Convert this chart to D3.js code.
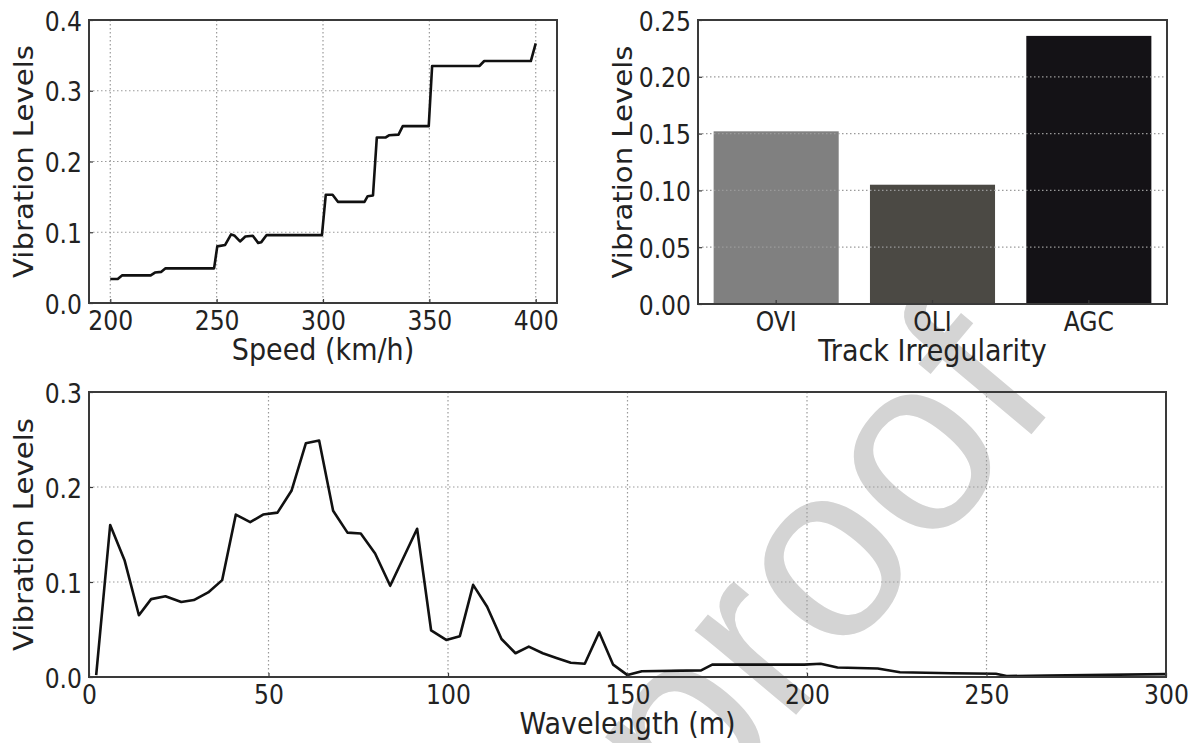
<!DOCTYPE html>
<html>
<head>
<meta charset="utf-8">
<script src="https://cdn.jsdelivr.net/npm/d3@7/dist/d3.min.js"></script>
<style>
  html, body { margin: 0; padding: 0; background: #fff; }
  svg { display: block; font-family: 'DejaVu Sans', sans-serif; }
</style>
</head>
<body>
<div id="chart"></div>
<script>
// speed sweep (top left)
const speedKmh = [200, 203.5, 205.5, 219, 221, 224, 226, 248.8, 250.3, 254, 256.8, 258.5, 261, 263.5,
  267, 269.5, 271, 273.5, 299.5, 301.3, 304.5, 307, 319.5, 321, 323.5, 325.3, 329.5, 331,
  335.5, 337.5, 349.7, 351.3, 373.5, 375.8, 397.7, 400];
const speedVib = [0.034, 0.034, 0.039, 0.039, 0.043, 0.044, 0.049, 0.049, 0.080, 0.082, 0.097, 0.095,
  0.087, 0.094, 0.095, 0.085, 0.086, 0.096, 0.096, 0.153, 0.153, 0.143, 0.143, 0.151, 0.152,
  0.234, 0.234, 0.237, 0.238, 0.250, 0.250, 0.335, 0.335, 0.342, 0.342, 0.367];
const speedTicks = [200, 250, 300, 350, 400];
const speedVibTicks = [0, 0.1, 0.2, 0.3, 0.4];

// track irregularity types (top right)
const irregularities = ['OVI', 'OLI', 'AGC'];
const irregularityVib = [0.152, 0.105, 0.236];
const barColors = ['#808080', '#4b4944', '#141216'];
const barVibTicks = [0, 0.05, 0.10, 0.15, 0.20, 0.25];

// wavelength sweep (bottom)
const wavelength = [2, 5.9, 9.9, 13.9, 17.3, 21.3, 25.7, 29.2, 33.2, 37.1, 40.9, 44.9, 48.5, 52.5,
  56.4, 60.4, 64.1, 68, 72, 75.7, 79.7, 83.9, 91.4, 95.3, 99.5, 103.3, 107, 110.9, 114.9,
  118.8, 122.5, 126.4, 130.2, 134.2, 138.1, 142.1, 146, 150, 154, 170.5, 173.6, 199.2,
  203.8, 208.5, 219.7, 225.9, 240.3, 252.6, 255.6, 266.9, 300];
const wavelengthVib = [0.002, 0.160, 0.123, 0.065, 0.082, 0.085, 0.079, 0.081, 0.089, 0.102, 0.171,
  0.163, 0.171, 0.173, 0.196, 0.246, 0.249, 0.175, 0.152, 0.151, 0.130, 0.096, 0.156, 0.049,
  0.039, 0.043, 0.097, 0.074, 0.040, 0.025, 0.032, 0.025, 0.020, 0.015, 0.014, 0.047, 0.013,
  0.002, 0.006, 0.007, 0.013, 0.013, 0.014, 0.010, 0.009, 0.005, 0.004, 0.0035, 0.001, 0.0015, 0.003];
const wavelengthTicks = [0, 50, 100, 150, 200, 250, 300];
const wavelengthVibTicks = [0, 0.1, 0.2, 0.3];

const W = 1198, H = 743;
const TICK_FONT = 23.5;
const LABEL_FONT = 27;
const STRETCH = 1.1; // source picture is a bit taller than wide
const TEXT = '#222';
const FRAME = '#3a3a3a';
const GRID = '#9a9a9a';

const svg = d3.select('#chart').append('svg')
  .attr('width', W)
  .attr('height', H);

// watermark sits behind everything
svg.append('text')
  .attr('transform', 'translate(1062, 398) rotate(-50)')
  .attr('text-anchor', 'end')
  .attr('font-family', 'Liberation Sans, Arial, sans-serif')
  .attr('font-size', 250)
  .attr('fill', '#d4d4d4')
  .text('Journal Pre-proof');

function panel(box) {
  const g = svg.append('g');
  g.box = box;
  return g;
}

function drawGrid(g, x, y, xTicks, yTicks) {
  const b = g.box;
  const grid = g.append('g')
    .attr('stroke', GRID)
    .attr('stroke-width', 1.2)
    .attr('stroke-dasharray', '1.5,2.5');
  grid.selectAll('.gx')
    .data(xTicks)
    .join('line')
    .attr('class', 'gx')
    .attr('x1', (d) => x(d)).attr('x2', (d) => x(d))
    .attr('y1', b.top).attr('y2', b.bottom);
  grid.selectAll('.gy')
    .data(yTicks)
    .join('line')
    .attr('class', 'gy')
    .attr('x1', b.left).attr('x2', b.right)
    .attr('y1', (d) => y(d)).attr('y2', (d) => y(d));
}

function drawAxes(g, xAxis, yAxis, xLabel, yLabelX) {
  const b = g.box;
  const ax = g.append('g')
    .attr('transform', `translate(0, ${b.bottom})`)
    .call(xAxis);
  const ay = g.append('g')
    .attr('transform', `translate(${b.left}, 0)`)
    .call(yAxis);
  [ax, ay].forEach((a) => {
    a.select('.domain').remove();
    a.selectAll('.tick line').attr('stroke', FRAME).attr('stroke-width', 1.2);
    a.selectAll('.tick text')
      .attr('fill', TEXT)
      .attr('font-size', TICK_FONT)
      .attr('font-family', 'DejaVu Sans, sans-serif');
  });
  ax.selectAll('.tick text')
    .attr('y', null).attr('dy', null)
    .attr('transform', `translate(0, 27) scale(1, ${STRETCH})`);
  ay.selectAll('.tick text')
    .attr('x', null).attr('dy', null)
    .attr('transform', `translate(-7, 10) scale(1, ${STRETCH})`);

  g.append('rect')
    .attr('x', b.left).attr('y', b.top)
    .attr('width', b.right - b.left).attr('height', b.bottom - b.top)
    .attr('fill', 'none')
    .attr('stroke', FRAME)
    .attr('stroke-width', 2);

  g.append('text')
    .attr('transform', `translate(${(b.left + b.right) / 2}, ${b.bottom + 57}) scale(1, ${STRETCH})`)
    .attr('text-anchor', 'middle')
    .attr('font-size', LABEL_FONT)
    .attr('fill', TEXT)
    .text(xLabel);
  g.append('text')
    .attr('transform', `translate(${yLabelX}, ${(b.top + b.bottom) / 2}) scale(1, ${STRETCH}) rotate(-90)`)
    .attr('text-anchor', 'middle')
    .attr('font-size', LABEL_FONT - 0.5)
    .attr('fill', TEXT)
    .text('Vibration Levels');
}

// ---- top left: speed ----
const p1 = panel({left: 89, right: 557, top: 20, bottom: 303});
const x1 = d3.scaleLinear().domain([190, 410]).range([p1.box.left, p1.box.right]);
const y1 = d3.scaleLinear().domain([0, 0.4]).range([p1.box.bottom, p1.box.top]);
drawGrid(p1, x1, y1, speedTicks, speedVibTicks.slice(1, -1));
p1.append('path')
  .datum(speedKmh.map((s, i) => [s, speedVib[i]]))
  .attr('fill', 'none')
  .attr('stroke', '#111')
  .attr('stroke-width', 2.6)
  .attr('stroke-linejoin', 'round')
  .attr('d', d3.line().x((d) => x1(d[0])).y((d) => y1(d[1])));
drawAxes(p1,
  d3.axisBottom(x1).tickValues(speedTicks).tickSize(-4).tickFormat(d3.format('d')),
  d3.axisLeft(y1).tickValues(speedVibTicks).tickSize(-4).tickFormat(d3.format('.1f')),
  'Speed (km/h)', 33);

// ---- top right: irregularity bars ----
const p2 = panel({left: 698, right: 1167, top: 20, bottom: 304});
const x2 = d3.scaleBand().domain(irregularities)
  .range([p2.box.left, p2.box.right])
  .paddingInner(0.2).paddingOuter(0.1);
const y2 = d3.scaleLinear().domain([0, 0.25]).range([p2.box.bottom, p2.box.top]);
p2.selectAll('.bar')
  .data(irregularities)
  .join('rect')
  .attr('class', 'bar')
  .attr('x', (d) => x2(d))
  .attr('width', x2.bandwidth())
  .attr('y', (d, i) => y2(irregularityVib[i]))
  .attr('height', (d, i) => y2(0) - y2(irregularityVib[i]))
  .attr('fill', (d, i) => barColors[i]);
// grid on top of the bars, horizontal only
drawGrid(p2, x2, y2, [], barVibTicks.slice(1, -1));
drawAxes(p2,
  d3.axisBottom(x2).tickSize(-4),
  d3.axisLeft(y2).tickValues(barVibTicks).tickSize(-4).tickFormat(d3.format('.2f')),
  'Track Irregularity', 632);

// ---- bottom: wavelength ----
const p3 = panel({left: 89, right: 1166, top: 392, bottom: 677});
const x3 = d3.scaleLinear().domain([0, 300]).range([p3.box.left, p3.box.right]);
const y3 = d3.scaleLinear().domain([0, 0.3]).range([p3.box.bottom, p3.box.top]);
drawGrid(p3, x3, y3, wavelengthTicks.slice(1, -1), wavelengthVibTicks.slice(1, -1));
p3.append('path')
  .datum(wavelength.map((w, i) => [w, wavelengthVib[i]]))
  .attr('fill', 'none')
  .attr('stroke', '#111')
  .attr('stroke-width', 2.6)
  .attr('stroke-linejoin', 'round')
  .attr('d', d3.line().x((d) => x3(d[0])).y((d) => y3(d[1])));
drawAxes(p3,
  d3.axisBottom(x3).tickValues(wavelengthTicks).tickSize(-4).tickFormat(d3.format('d')),
  d3.axisLeft(y3).tickValues(wavelengthVibTicks).tickSize(-4).tickFormat(d3.format('.1f')),
  'Wavelength (m)', 33);
</script>
</body>
</html>
